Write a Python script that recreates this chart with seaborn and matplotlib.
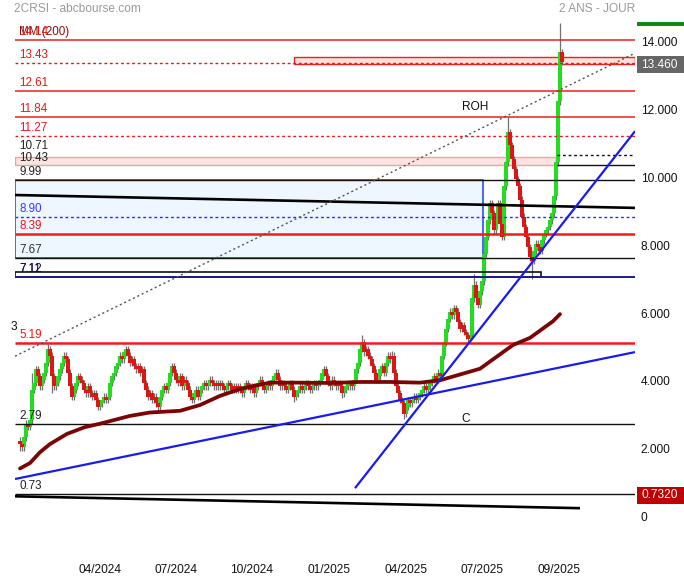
import matplotlib
matplotlib.use("Agg")
import matplotlib.pyplot as plt
from matplotlib.patches import Rectangle
from matplotlib.transforms import ScaledTranslation
import numpy as np
import pandas as pd
import seaborn as sns


# closes, one candle for roughly every two sessions
closes = [
    2.2, 2.1, 2.4, 2.8, 2.7, 2.9, 3.8,
    4.0, 4.4, 4.2, 3.9, 4.1, 4.3, 4.6, 5.0, 4.8, 4.2, 3.9,
    4.0, 4.2, 4.4, 4.6, 4.8, 4.7, 4.3, 3.9, 3.6,
    3.8, 4.0, 4.2, 4.1, 4.0, 3.8, 3.7, 3.9, 3.7, 3.6, 3.7,
    3.5, 3.3, 3.4, 3.5, 3.6, 3.5, 3.6, 4.0, 4.2, 4.3,
    4.5, 4.6, 4.8, 4.7, 4.9, 5.0, 4.8, 4.6, 4.7, 4.5, 4.4,
    4.5, 4.3, 4.4, 4.0, 3.8, 3.6, 3.7, 3.5, 3.6, 3.4, 3.3,
    3.6, 3.8, 3.9, 3.8, 4.0, 4.3, 4.5, 4.3,
    4.1, 4.0, 4.2, 3.9, 4.1, 4.0, 3.8, 3.6, 3.5, 3.7, 3.8, 3.6,
    3.8, 3.9, 4.0, 3.9, 4.0, 4.1, 4.0, 3.9, 4.0, 3.9,
    4.0, 3.9, 3.8, 3.9, 4.0, 3.9, 3.8, 3.9, 3.8, 3.9,
    3.8, 3.7, 3.9, 4.0, 3.9, 3.8, 3.9,
    3.7, 3.9, 4.0, 4.1, 3.9, 3.8, 3.9, 4.0, 3.9,
    4.1, 4.2, 4.3, 4.1, 3.9, 4.0, 3.9, 3.8, 3.9, 4.0,
    3.8, 3.6, 3.7, 3.8,
    3.9, 3.8, 3.9, 4.0, 3.9, 3.8, 3.9, 4.0, 3.9, 4.0, 4.1,
    4.3, 4.4, 4.2, 4.0, 3.9, 4.1, 4.0, 3.9, 4.0, 3.9, 3.7,
    3.8, 3.9, 3.9, 4.0, 3.9, 4.1, 4.4, 4.6, 5.0, 5.2,
    4.9, 5.0, 4.8, 4.7, 4.5, 4.3, 4.1, 4.2, 4.4, 4.5, 4.3,
    4.6, 4.8, 4.7, 4.8, 4.3, 3.9, 3.7, 3.5, 3.4, 3.1,
    3.3, 3.5, 3.4, 3.5, 3.6, 3.5, 3.6, 3.7,
    3.8, 3.9, 3.8, 3.9, 4.0, 4.1, 4.2, 4.1, 4.3, 4.2,
    4.8, 5.2, 5.6, 5.9, 6.1, 6.0, 6.2, 6.1, 5.8, 5.6, 5.7,
    5.5, 5.4, 5.3, 5.4, 6.5, 6.9, 6.5, 6.3, 6.7, 7.0,
    7.8, 8.3, 8.8, 9.3, 9.0, 8.5, 8.9, 9.3, 8.7, 8.3,
    9.8, 10.5, 11.4, 11.0, 10.6, 10.3, 10.0, 9.8, 9.4, 8.9,
    8.6, 8.3, 8.0, 7.7, 7.6, 7.9, 8.1, 8.0, 7.9,
    8.2, 8.4, 8.5, 8.6, 8.8, 9.0, 9.5, 10.5, 12.3, 13.75, 13.46,
]
first_open = 2.3

# wicks that stick out clearly past the bodies (candle index: price)
wick_highs = {6: 4.3, 14: 5.15, 53: 5.08, 76: 4.6, 171: 5.4, 186: 4.95,
              227: 7.2, 244: 11.84, 270: 14.6}
wick_lows = {0: 2.0, 16: 3.7, 69: 3.15, 137: 3.45, 161: 3.55, 192: 2.95,
             231: 6.6, 256: 7.05}

# 200 day moving average
ma_idx = [0, 5, 10, 15, 23.5, 32.5, 40, 55, 65, 80, 90, 100, 110, 116.5,
          125, 140, 155, 170, 185, 200, 210, 230, 246.5, 255, 266.5, 270]
ma_val = [1.48, 1.64, 1.96, 2.2, 2.5, 2.7, 2.8, 3.03, 3.13, 3.18, 3.35,
          3.62, 3.82, 3.91, 4.01, 4.01, 4.0, 4.03, 4.03, 4.01, 4.08, 4.42,
          5.12, 5.33, 5.82, 6.03]

date_ticks = [40, 78, 116, 154.5, 193, 231, 269.5]
date_labels = ["04/2024", "07/2024", "10/2024", "01/2025", "04/2025",
               "07/2025", "09/2025"]
price_ticks = [0, 2, 4, 6, 8, 10, 12, 14]

last_price = 13.46
mark_price = 0.7320

# levels drawn across the chart
red_thin = [14.1, 12.61, 11.84]
red_dashed = [13.43, 11.27]
red_thick = [8.39, 5.19]
black_full = [9.99, 7.67, 2.79, 0.73]

# labels written on the left edge
level_labels = ["MM (200)", "14.14", "13.43", "12.61", "11.84", "11.27",
                "10.71", "10.43", "9.99", "8.90", "8.39", "7.67", "7.12",
                "7.11", "5.19", "2.79", "0.73"]
level_values = [14.1, 14.1, 13.43, 12.61, 11.84, 11.27, 10.71, 10.43, 9.99,
                8.90, 8.39, 7.67, 7.12, 7.11, 5.19, 2.79, 0.73]
level_colors = ["#8b1010", "#e01b1b", "#d01f1f", "#e01b1b", "#e01b1b",
                "#e01b1b", "#222222", "#222222", "#222222", "#3b3bff",
                "#e01b1b", "#333333", "#111111", "#101060", "#e01b1b",
                "#222222", "#222222"]

# trend lines as (candle index, price) end points
black_trends = [[(-2.5, 9.54), (307.5, 9.16)], [(-2.5, 0.66), (280, 0.31)]]
blue_trends = [[(-2.5, 1.17), (307.5, 4.91)], [(167.5, 0.9), (307.5, 11.42)]]
dotted_trend = [(-2.5, 4.79), (307.5, 13.72)]


sns.set_theme(style="white")
plt.rcParams["font.family"] = ["Liberation Sans", "DejaVu Sans"]

W, H = 684, 580
fig = plt.figure(figsize=(W / 100, H / 100), dpi=100)


def py2v(py):
    # pixel row of the reference -> price
    return (518.7 - py) / 33.93


ax = fig.add_axes([15 / W, 1 - 558 / H, 620 / W, 540 / H])
X0, X1 = -2.5, 307.5
ax.set_xlim(X0, X1)
ax.set_ylim(py2v(558), py2v(18))
for s in ax.spines.values():
    s.set_visible(False)

# candle table
df = pd.DataFrame({"close": closes})
df["open"] = [first_open] + closes[:-1]
df["idx"] = np.arange(len(df))
df["top"] = df[["open", "close"]].max(axis=1)
df["bot"] = df[["open", "close"]].min(axis=1)
df["high"] = df["top"] + 0.1
df["low"] = df["bot"] - 0.1
for k, v in wick_highs.items():
    df.loc[k, "high"] = v
for k, v in wick_lows.items():
    df.loc[k, "low"] = v
df["up"] = df["close"] >= df["open"]

# zones
ax.add_patch(Rectangle((X0, 7.67), 231.5 - X0, 9.99 - 7.67, facecolor="#eef6ff",
                       edgecolor="#1f3bff", lw=1.1, zorder=1))
ax.add_patch(Rectangle((X0, 10.43), 268 - X0, 10.66 - 10.43, facecolor="#fde3e3",
                       edgecolor="#f2a0a0", lw=1, zorder=1))
ax.add_patch(Rectangle((137, 13.40), X1 - 137, 13.61 - 13.40, facecolor="#fde0e0",
                       edgecolor="#ee2020", lw=1, zorder=1))
ax.add_patch(Rectangle((X0, 7.12), 260.5 - X0, 7.27 - 7.12, facecolor="none",
                       edgecolor="#111111", lw=1.2, zorder=4))

# horizontal levels
ax.hlines(red_thin, X0, X1, color="#ee1c1c", lw=1.1, zorder=4)
ax.hlines(red_dashed, X0, X1, color="#e01b1b", lw=1, linestyles=(0, (2, 2)), zorder=4)
ax.hlines(red_thick, X0, X1, color="#ee1c1c", lw=1.8, zorder=4)
ax.hlines(black_full, X0, X1, color="#111111", lw=1, zorder=4)
ax.hlines(10.43, 268.5, X1, color="#111111", lw=1, zorder=4)
ax.hlines(10.71, 268.5, X1, color="#111111", lw=1, linestyles=(0, (2, 2)), zorder=4)
ax.hlines(8.90, X0, X1, color="#2a2aff", lw=1, linestyles=(0, (2, 2)), zorder=4)
ax.hlines(7.11, X0, X1, color="#1a1a90", lw=1.4, zorder=4)

# candles
ax.vlines(df["idx"], df["low"], df["high"], color="#707070", lw=0.9, zorder=2)
body = (df["top"] - df["bot"]).clip(lower=0.08)
up = df[df["up"]]
dn = df[~df["up"]]
ax.bar(up["idx"], body[df["up"]], bottom=up["bot"], width=1.6,
       color="#22dd22", linewidth=0, zorder=3)
ax.bar(dn["idx"], body[~df["up"]], bottom=dn["bot"], width=1.6,
       color="#dd1515", linewidth=0, zorder=3)

# moving average
sns.lineplot(x=ma_idx, y=ma_val, ax=ax, color="#7a0505", lw=2.7,
             sort=False, estimator=None, zorder=5)

# trend lines
for (a, b) in black_trends:
    ax.plot([a[0], b[0]], [a[1], b[1]], color="#000000", lw=1.9,
            solid_capstyle="butt", zorder=5)
for (a, b) in blue_trends:
    ax.plot([a[0], b[0]], [a[1], b[1]], color="#1a1aee", lw=1.6,
            solid_capstyle="butt", zorder=5)
ax.plot([dotted_trend[0][0], dotted_trend[1][0]],
        [dotted_trend[0][1], dotted_trend[1][1]],
        color="#555555", lw=1, linestyle=(0, (1.5, 2)), zorder=5)

# level labels
for txt, val, col in zip(level_labels, level_values, level_colors):
    lift = 2.5 if txt == "10.71" else (0.5 if txt == "10.43" else 1.5)
    ax.annotate(txt, (-0.5, val), xytext=(0, lift), textcoords="offset points",
                ha="left", va="bottom", color=col, fontsize=8.4, zorder=6)
ax.annotate("3", (-1.2, py2v(333)), ha="right", va="bottom", fontsize=8.6,
            color="#111111", annotation_clip=False)
ax.text(227.5, py2v(107.5), "ROH", ha="center", va="center", fontsize=8.6,
        color="#111111")
ax.text(223, py2v(419.5), "C", ha="center", va="center", fontsize=8.6,
        color="#111111")

# axes ticks
ax.yaxis.tick_right()
ax.set_yticks(price_ticks)
ax.set_yticklabels(["0" if t == 0 else f"{t:.3f}" for t in price_ticks])
ax.set_xticks(date_ticks)
ax.set_xticklabels(date_labels)
ax.tick_params(axis="y", length=0, pad=4, labelsize=8.6, colors="#111111")
ax.tick_params(axis="x", length=0, pad=4.5, labelsize=8.6, colors="#111111")
for lab in ax.get_yticklabels():
    lab.set_transform(lab.get_transform() + ScaledTranslation(0, 0.02, fig.dpi_scale_trans))
ax.grid(False)


def fpx(x, y):
    return x / W, 1 - y / H


# price boxes on the right
fig.add_artist(Rectangle(fpx(637, 73), 47 / W, 17 / H, facecolor="#666666",
                         edgecolor="none", transform=fig.transFigure))
fig.text(*fpx(641, 64.5), f"{last_price:.3f}", color="white", fontsize=8.6,
         ha="left", va="center")
fig.add_artist(Rectangle(fpx(637, 504), 47 / W, 17 / H, facecolor="#c00000",
                         edgecolor="none", transform=fig.transFigure))
fig.text(*fpx(641, 495.5), f"{mark_price:.4f}", color="white", fontsize=8.6,
         ha="left", va="center")
fig.add_artist(Rectangle(fpx(637, 26), 47 / W, 4 / H, facecolor="#118811",
                         edgecolor="none", transform=fig.transFigure))

fig.text(*fpx(14, 9), "2CRSI - abcbourse.com", color="#9a9a9a", fontsize=8.6,
         ha="left", va="center")
fig.text(*fpx(635, 9), "2 ANS - JOUR", color="#9a9a9a", fontsize=8.6,
         ha="right", va="center")

fig.savefig("out.png", dpi=100)
